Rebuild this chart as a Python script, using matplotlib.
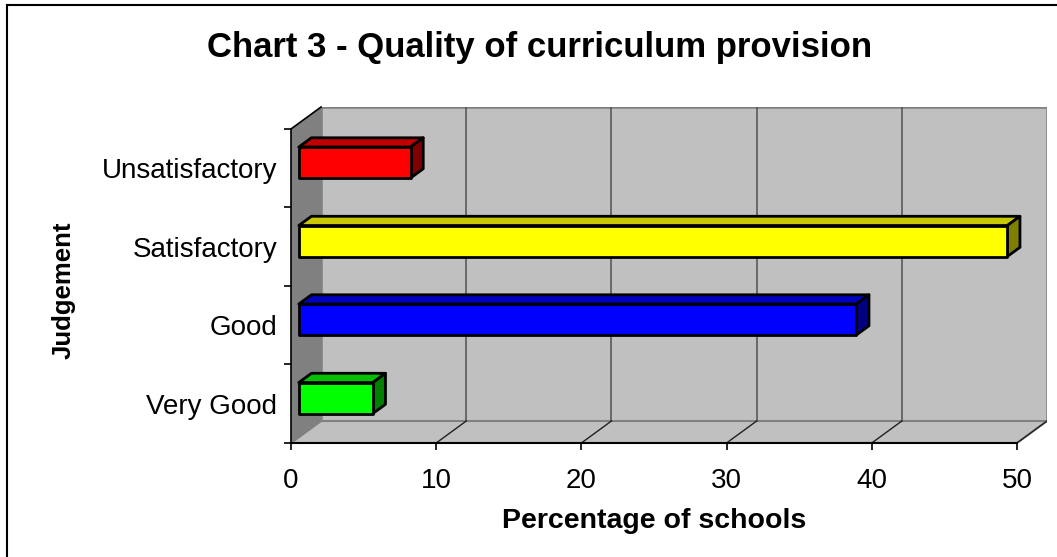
import matplotlib
matplotlib.use('Agg')
import matplotlib.pyplot as plt
from matplotlib.patches import Polygon
from matplotlib.lines import Line2D

plt.rcParams['font.family'] = ['Liberation Sans', 'DejaVu Sans']

# data
categories = ['Very Good', 'Good', 'Satisfactory', 'Unsatisfactory']
values = [5.1, 38.4, 48.8, 7.7]
front_cols = ['#00ff00', '#0000ff', '#ffff00', '#ff0000']
top_cols = ['#00c000', '#0000c0', '#c8c800', '#c00000']
side_cols = ['#008000', '#000080', '#808000', '#800000']
xticks = [0, 10, 20, 30, 40, 50]

xmax = 50
dx, dy = 2.07, 0.28      # depth of the box in data units
f1, f2 = 0.26, 0.68      # front and back of the bars as a share of the depth
h = 0.395                # bar height
y0, y1 = -0.5, len(categories) - 0.5

fig = plt.figure(figsize=(10.57, 5.57), dpi=100)
ax = fig.add_axes([291/1057, 1-443/557, (1047-291)/1057, (443-107)/557])
ax.set_xlim(0, xmax + dx)
ax.set_ylim(y0, y1 + dy)
ax.set_facecolor('none')
for s in ax.spines.values():
    s.set_visible(False)

# walls and floor
ax.add_patch(Polygon([(dx, y0+dy), (xmax+dx, y0+dy), (xmax+dx, y1+dy), (dx, y1+dy)],
                     closed=True, fc='#c0c0c0', ec='#808080', lw=1.8, zorder=1))
ax.add_patch(Polygon([(0, y0), (xmax, y0), (xmax+dx, y0+dy), (dx, y0+dy)],
                     closed=True, fc='#c0c0c0', ec='#808080', lw=1.5, zorder=1))
ax.add_patch(Polygon([(0, y0), (dx, y0+dy), (dx, y1+dy), (0, y1)],
                     closed=True, fc='#808080', ec='none', zorder=1))
ax.plot([0, 0, dx], [y0, y1, y1+dy], color='black', lw=1.2, zorder=2, clip_on=False)

# gridlines on back wall and floor
for t in xticks[1:-1]:
    ax.plot([t+dx, t+dx], [y0+dy, y1+dy], color='#505050', lw=1.1, zorder=2)
for t in xticks[1:]:
    ax.plot([t, t+dx], [y0, y0+dy], color='#202020', lw=1.0, zorder=2)
ax.plot([0, xmax], [y0, y0], color='black', lw=1.5, zorder=3, clip_on=False)

# 3d bars
for i, v in enumerate(values):
    xa, ya = f1*dx, i - h/2 + f1*dy
    ddx, ddy = (f2-f1)*dx, (f2-f1)*dy
    front = [(xa, ya), (xa+v, ya), (xa+v, ya+h), (xa, ya+h)]
    top = [(xa, ya+h), (xa+v, ya+h), (xa+v+ddx, ya+h+ddy), (xa+ddx, ya+h+ddy)]
    side = [(xa+v, ya), (xa+v+ddx, ya+ddy), (xa+v+ddx, ya+h+ddy), (xa+v, ya+h)]
    ax.add_patch(Polygon(top, closed=True, fc=top_cols[i], ec='black', lw=2, zorder=4, joinstyle='round'))
    ax.add_patch(Polygon(side, closed=True, fc=side_cols[i], ec='black', lw=2, zorder=4, joinstyle='round'))
    ax.add_patch(Polygon(front, closed=True, fc=front_cols[i], ec='black', lw=2, zorder=5, joinstyle='round'))

ax.set_xticks(xticks)
ax.set_xticklabels([str(t) for t in xticks], fontsize=20)
ax.tick_params(axis='x', direction='out', length=5, width=1.2, pad=13)
ax.set_yticks(range(len(categories)))
ax.set_yticklabels(categories, fontsize=20)
ax.set_yticks([k - 0.5 for k in range(len(categories)+1)], minor=True)
ax.tick_params(axis='y', which='major', length=0, pad=10)
ax.tick_params(axis='y', which='minor', direction='out', length=5, width=1.2)

fig.text(540/1057, 1-48/557, 'Chart 3 - Quality of curriculum provision',
         fontsize=25, fontweight='bold', ha='center', va='center')
fig.text(654/1057, 1-521/557, 'Percentage of schools',
         fontsize=20.5, fontweight='bold', ha='center', va='center')
fig.text(64/1057, 1-290/557, 'Judgement', rotation=90,
         fontsize=18.5, fontweight='bold', ha='center', va='center')

fig.add_artist(Line2D([7/1057, 7/1057], [0, 1-5/557], color='black', lw=1.5))
fig.add_artist(Line2D([7/1057, 1], [1-5/557, 1-5/557], color='black', lw=1.5))

fig.savefig('out.png', dpi=100)
